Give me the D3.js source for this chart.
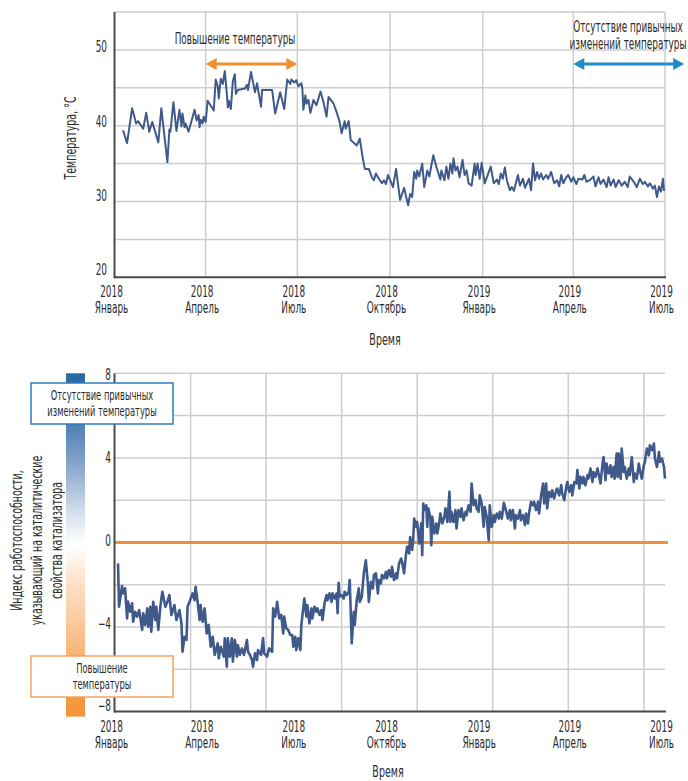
<!DOCTYPE html>
<html>
<head>
<meta charset="utf-8">
<script src="https://cdn.jsdelivr.net/npm/d3@7"></script>
<style>
body { margin: 0; background: #fff; }
svg text { font-family: "DejaVu Sans Condensed", "Liberation Sans Narrow", sans-serif; fill: #2b2b2b; }
</style>
</head>
<body>
<svg id="chart" width="688" height="781"></svg>
<script>
// days counted from 1 Jan 2018
var tempDays = [8,12,17,21,23,28,31,34,37,43,46,52,54,55,58,61,64,66,67,69,70,73,78,79,81,83,84,85,87,88,90,92,98,100,102,103,105,107,109,111,112,113,115,117,119,120,122,129,131,132,135,139,141,145,146,156,159,162,164,168,171,174,175,178,180,182,185,186,187,189,190,192,194,197,200,204,207,210,212,217,220,223,225,228,229,232,234,240,243,246,248,252,255,257,259,262,265,267,269,271,276,279,283,287,291,293,295,297,299,300,302,305,307,310,312,316,319,323,324,327,329,331,333,335,336,338,340,342,345,347,349,351,354,357,358,360,362,364,367,373,376,379,381,383,385,387,389,392,394,396,400,402,405,407,411,413,415,417,419,421,423,425,428,430,433,436,439,441,443,445,448,450,453,455,458,460,464,466,468,472,475,477,480,482,485,488,490,492,495,497,500,503,506,509,511,515,518,521,524,526,529,531,534,536,538,540,542,544,545];
var tempValues = [39.4,37.7,42.3,40.3,40.6,39.6,41.7,39.2,40.5,37.8,42.3,35.2,39.5,39.2,43.1,39.3,42.1,39.9,41.6,39.8,40.3,39.2,41.6,42.1,40.7,41.4,39.8,40.8,40.3,41.2,40.5,43.3,42.0,46.1,45.2,43.6,46.2,45.5,47.2,44.2,42.4,43.3,42.2,45.9,46.8,44.2,44.7,44.9,45.4,44.7,47.1,44.4,45.6,42.5,44.7,44.7,41.6,43.3,44.4,42.2,46.1,45.5,46.1,45.7,46.0,45.2,45.6,44.9,42.1,44.0,42.9,43.4,41.7,43.4,42.7,44.5,43.1,41.2,43.8,42.9,41.8,40.5,39.0,40.6,39.6,40.6,38.1,37.4,38.3,35.7,34.3,34.3,33.2,32.8,33.7,33.0,32.4,32.8,32.3,33.5,31.9,34.3,30.2,31.8,29.5,31.0,30.6,33.9,33.0,34.1,33.3,35.0,31.9,34.1,33.3,36.1,34.6,32.9,34.1,32.8,34.6,33.0,35.0,33.7,35.7,34.1,34.6,33.2,35.5,33.5,34.1,32.4,32.1,35.0,33.5,35.0,33.0,35.1,32.4,34.6,32.4,32.9,32.3,33.7,33.0,34.5,32.8,31.5,31.9,31.4,33.5,32.1,33.0,31.8,33.0,31.5,35.0,32.8,33.9,33.0,33.7,32.9,33.5,33.0,33.9,32.4,32.8,32.0,33.5,32.4,33.2,33.5,32.6,33.2,32.3,33.0,32.9,33.5,32.6,32.9,33.3,32.0,33.2,32.3,32.9,31.9,33.2,32.1,32.9,31.9,32.8,32.1,32.6,31.9,33.3,32.6,31.9,33.0,32.3,32.6,32.0,32.4,31.7,32.1,30.6,32.0,31.3,33.0,31.4];

var indexDays = [3,4,7,8,10,12,13,15,17,18,20,22,24,27,28,30,32,33,35,36,38,40,41,43,45,47,50,52,54,56,59,61,64,66,67,69,71,72,74,77,79,80,82,84,85,87,89,91,93,95,97,99,102,103,105,108,109,111,112,114,116,117,119,121,122,124,126,128,131,132,134,136,137,139,141,142,145,147,148,151,153,156,157,159,161,163,165,167,168,170,172,174,176,177,179,180,182,184,185,188,190,191,193,195,196,198,200,201,203,205,206,208,210,211,213,215,216,218,220,221,222,223,225,227,228,230,232,233,235,237,238,240,242,243,245,247,248,249,251,252,254,256,257,259,261,262,264,265,267,269,270,272,274,275,277,279,280,282,284,285,287,289,290,291,292,293,295,296,297,299,300,302,304,305,306,307,309,310,311,313,314,315,317,319,320,322,323,325,327,328,330,332,333,334,336,338,339,341,343,344,346,348,349,351,353,354,356,358,359,361,362,364,366,367,369,371,372,374,376,377,379,381,382,384,386,388,390,392,393,395,397,398,400,402,403,405,407,408,410,411,413,415,416,418,420,421,423,425,426,428,429,431,433,434,436,438,439,441,443,444,446,448,449,451,453,454,456,458,459,461,462,464,465,467,469,470,472,474,475,477,479,480,482,484,485,487,488,490,492,493,495,496,498,499,500,502,503,505,506,508,510,511,513,515,516,518,520,521,523,525,526,528,530,531,533,535,536,538,540,541,543,545,546];
var indexValues = [-0.99,-3.04,-2.06,-2.41,-2.17,-3.59,-2.80,-3.28,-2.88,-3.75,-3.28,-3.51,-3.20,-4.14,-3.35,-3.90,-3.12,-3.99,-3.04,-4.22,-2.81,-3.67,-3.04,-4.14,-3.04,-2.33,-3.04,-2.81,-2.49,-3.43,-2.96,-3.67,-3.20,-3.83,-5.17,-4.46,-4.61,-3.04,-2.81,-2.41,-2.73,-2.10,-2.81,-3.67,-2.96,-3.75,-3.12,-4.30,-3.90,-4.93,-4.46,-5.32,-4.77,-5.48,-4.93,-5.40,-4.53,-5.88,-4.53,-5.40,-4.53,-5.64,-4.61,-5.40,-4.85,-5.32,-5.01,-5.32,-4.61,-5.17,-5.32,-5.56,-5.88,-5.24,-5.56,-5.09,-5.32,-4.53,-5.24,-5.40,-5.01,-5.17,-3.12,-3.51,-2.81,-3.59,-3.43,-4.30,-3.51,-4.06,-4.14,-4.38,-4.38,-4.93,-4.46,-5.09,-4.53,-5.09,-3.90,-2.65,-3.51,-2.96,-3.83,-3.12,-3.59,-3.04,-3.28,-3.12,-3.43,-3.20,-3.67,-2.88,-2.49,-2.73,-2.41,-2.81,-2.41,-2.65,-2.41,-3.35,-1.91,-2.57,-2.49,-2.65,-2.33,-2.49,-2.33,-1.78,-4.77,-3.28,-3.90,-2.73,-2.17,-2.81,-2.57,-1.46,-1.15,-0.84,-1.94,-2.81,-1.86,-2.17,-1.54,-1.46,-2.41,-1.78,-1.94,-1.54,-1.70,-1.39,-1.70,-1.31,-1.62,-1.15,-1.78,-1.46,-1.70,-0.99,-0.76,-0.92,-1.46,-0.52,-0.21,-0.21,-0.52,0.26,-0.36,0.11,1.13,0.74,0.97,-0.05,0.90,-0.60,1.84,1.53,1.76,0.74,1.61,1.21,-0.13,1.21,0.43,0.90,0.43,0.97,1.37,0.90,1.21,1.61,0.97,2.39,0.97,1.45,0.97,1.53,0.66,1.53,1.21,1.61,1.05,1.45,1.29,1.76,1.45,2.79,1.76,2.00,1.61,1.45,2.23,1.84,0.74,1.68,1.21,0.11,1.76,0.74,1.29,0.97,1.37,1.13,1.45,1.13,1.87,1.53,1.13,1.53,1.05,1.53,0.66,1.29,1.13,1.53,1.05,1.29,0.82,1.37,0.90,1.37,1.92,1.76,1.92,1.53,1.92,1.37,2.23,2.79,1.84,2.79,1.61,2.39,2.15,2.47,2.08,2.47,2.55,2.23,2.71,2.31,2.00,2.63,2.86,2.39,2.71,2.23,2.86,2.79,3.42,2.55,3.10,2.79,3.10,2.71,3.18,3.02,3.50,2.86,3.33,3.10,3.50,3.26,2.79,3.73,4.04,2.94,3.73,3.26,3.65,3.10,3.57,3.02,4.20,3.10,4.20,3.02,4.44,3.33,3.57,3.02,3.50,3.18,4.04,2.86,3.26,3.02,3.73,3.42,3.02,3.65,3.81,4.44,4.12,4.60,4.36,4.68,3.97,3.57,4.28,3.81,3.97,3.57,3.02];

var tickDates = ["2018-01-01","2018-04-01","2018-07-01","2018-10-01","2019-01-01","2019-04-01","2019-07-01"];
var tickYears = ["2018","2018","2018","2018","2019","2019","2019"];
var tickMonths = ["Январь","Апрель","Июль","Октябрь","Январь","Апрель","Июль"];
var tempTicks = [20,30,40,50];
var tempGrid = [25,30,35,40,45,50,55];
var indexTicks = [-8,-4,0,4,8];
var indexGrid = [-6,-4,-2,2,4,6,8];
var indexGridDays = [75,150,225,300,375,450,525];
var heatSpan = ["2018-04-01","2018-07-01"];
var normalSpan = ["2019-04-01","2019-07-20"];

var SQ = 0.66;   // squeeze the font to look condensed
var lineColor = "#3f5a8a";
var orange = "#f28f34";
var blue = "#1f8bc8";
var gridColor = "#cdcdcd";
var axisColor = "#4a4a4a";

var parse = d3.timeParse("%Y-%m-%d");
var start = parse("2018-01-01");
function dayDate(d) { return d3.timeDay.offset(start, d); }

var svg = d3.select("#chart");

var x = d3.scaleTime()
    .domain([start, parse("2019-07-01")])
    .range([115, 665]);

function label(parent, px, py, str, size, anchor, rot) {
    return parent.append("text")
        .attr("transform", "translate(" + px + "," + py + ")" + (rot ? " rotate(-90)" : "") + " scale(" + SQ + ",1)")
        .attr("text-anchor", anchor || "middle")
        .style("font-size", size + "px")
        .text(str);
}

function drawXLabels(yBase) {
    var ax = svg.append("g")
        .attr("transform", "translate(-4," + yBase + ")")
        .call(d3.axisBottom(x).tickValues(tickDates.map(parse)).tickSize(0).tickPadding(0)
            .tickFormat(function (d, i) { return tickYears[i]; }));
    ax.select(".domain").remove();
    ax.selectAll(".tick text")
        .attr("y", 0).attr("dy", null)
        .attr("transform", "scale(" + SQ + ",1)")
        .style("font-size", "15px").style("fill", "#2b2b2b");
    ax.selectAll(".tick").append("text")
        .attr("y", 16)
        .attr("transform", "scale(" + SQ + ",1)")
        .attr("text-anchor", "middle")
        .style("font-size", "15px")
        .text(function (d, i) { return tickMonths[i]; });
}

function drawYLabels(scale, ticks, xPos) {
    var ay = svg.append("g")
        .attr("transform", "translate(" + xPos + ",0)")
        .call(d3.axisLeft(scale).tickValues(ticks).tickSize(0).tickPadding(0)
            .tickFormat(function (d) { return d < 0 ? "\u2212" + Math.abs(d) : d; }));
    ay.select(".domain").remove();
    ay.selectAll(".tick text")
        .attr("dy", "0.36em")
        .attr("transform", "scale(" + SQ + ",1)")
        .style("font-size", "15px").style("fill", "#2b2b2b");
}

function arrow(y, x0, x1, color) {
    var g = svg.append("g");
    g.append("line").attr("x1", x0 + 8).attr("x2", x1 - 8).attr("y1", y).attr("y2", y)
        .attr("stroke", color).attr("stroke-width", 3);
    g.append("path").attr("d", "M" + x0 + "," + y + "l11,-6v12z").attr("fill", color);
    g.append("path").attr("d", "M" + x1 + "," + y + "l-11,-6v12z").attr("fill", color);
}

// ---------- top chart: temperature ----------
var yT = d3.scaleLinear().domain([20, 55]).range([277.3, 12]);
var yTLab = d3.scaleLinear().domain([20, 50]).range([269.5, 46.2]);

svg.append("g").selectAll("line").data(tempGrid).enter().append("line")
    .attr("x1", 115).attr("x2", 665)
    .attr("y1", function (d) { return yT(d); }).attr("y2", function (d) { return yT(d); })
    .attr("stroke", gridColor).attr("stroke-width", 1.5);
svg.append("g").selectAll("line").data(tickDates.slice(1)).enter().append("line")
    .attr("x1", function (d) { return x(parse(d)); }).attr("x2", function (d) { return x(parse(d)); })
    .attr("y1", yT(55)).attr("y2", yT(20))
    .attr("stroke", gridColor).attr("stroke-width", 1.5);

var tempLine = d3.line()
    .x(function (d, i) { return x(dayDate(tempDays[i])); })
    .y(function (d) { return yT(d); });
svg.append("path")
    .attr("d", tempLine(tempValues))
    .attr("fill", "none").attr("stroke", lineColor).attr("stroke-width", 2)
    .attr("stroke-linejoin", "round");

svg.append("line").attr("x1", 114.5).attr("x2", 114.5).attr("y1", yT(55)).attr("y2", yT(20) + 1)
    .attr("stroke", axisColor).attr("stroke-width", 2);
svg.append("line").attr("x1", 114).attr("x2", 666).attr("y1", yT(20)).attr("y2", yT(20))
    .attr("stroke", axisColor).attr("stroke-width", 2);

drawYLabels(yTLab, tempTicks, 107);
drawXLabels(297);
label(svg, 385, 345, "Время", 16);
label(svg, 76, 138, "Температура, °C", 16, "middle", true);

label(svg, 235, 44, "Повышение температуры", 15);
arrow(64, x(parse(heatSpan[0])), x(parse(heatSpan[1])), orange);
label(svg, 628, 32, "Отсутствие привычных", 15);
label(svg, 628, 48.5, "изменений температуры", 15);
arrow(64, x(parse(normalSpan[0])), x(parse(normalSpan[1])), blue);

// ---------- bottom chart: performance index ----------
var yI = d3.scaleLinear().domain([-8, 8]).range([711.6, 373.3]);
var yILab = d3.scaleLinear().domain([-8, 8]).range([705.5, 374.5]);

svg.append("g").selectAll("line").data(indexGrid).enter().append("line")
    .attr("x1", 115).attr("x2", 665)
    .attr("y1", function (d) { return yI(d); }).attr("y2", function (d) { return yI(d); })
    .attr("stroke", gridColor).attr("stroke-width", 1.5);
svg.append("g").selectAll("line").data(indexGridDays).enter().append("line")
    .attr("x1", function (d) { return x(dayDate(d)); }).attr("x2", function (d) { return x(dayDate(d)); })
    .attr("y1", yI(8)).attr("y2", yI(-8))
    .attr("stroke", gridColor).attr("stroke-width", 1.5);

svg.append("line").attr("x1", 115).attr("x2", 668).attr("y1", yI(0)).attr("y2", yI(0))
    .attr("stroke", orange).attr("stroke-width", 3);

var indexLine = d3.line()
    .x(function (d, i) { return x(dayDate(indexDays[i])); })
    .y(function (d) { return yI(d); });
svg.append("path")
    .attr("d", indexLine(indexValues))
    .attr("fill", "none").attr("stroke", lineColor).attr("stroke-width", 2.6)
    .attr("stroke-linejoin", "round");

svg.append("line").attr("x1", 114.5).attr("x2", 114.5).attr("y1", yI(8)).attr("y2", yI(-8) + 1)
    .attr("stroke", axisColor).attr("stroke-width", 2);
svg.append("line").attr("x1", 114).attr("x2", 666).attr("y1", yI(-8)).attr("y2", yI(-8))
    .attr("stroke", axisColor).attr("stroke-width", 2);

drawYLabels(yILab, indexTicks, 111);
drawXLabels(732);
label(svg, 388, 777, "Время", 16);

// colour bar
var grad = svg.append("defs").append("linearGradient")
    .attr("id", "bar").attr("x1", 0).attr("y1", 0).attr("x2", 0).attr("y2", 1);
[[0, "#2a6aa3"], [0.03, "#2c6ca4"], [0.05, "#3e76ad"], [0.15, "#4f80b3"], [0.28, "#8eaacf"],
 [0.42, "#dce5f0"], [0.5, "#ffffff"], [0.6, "#fde4ce"], [0.78, "#f9bd87"], [0.93, "#f59a45"], [1, "#f5933a"]]
    .forEach(function (s) { grad.append("stop").attr("offset", s[0]).attr("stop-color", s[1]); });
svg.append("rect").attr("x", 66).attr("y", yI(8)).attr("width", 19).attr("height", yI(-8) - yI(8) + 5)
    .attr("fill", "url(#bar)");

svg.append("rect").attr("x", 31).attr("y", 383).attr("width", 142).attr("height", 41)
    .attr("fill", "#fff").attr("stroke", "#2f7bbd").attr("stroke-width", 1.5);
label(svg, 102, 399.5, "Отсутствие привычных", 14);
label(svg, 102, 415.5, "изменений температуры", 14);

svg.append("rect").attr("x", 31).attr("y", 656).attr("width", 142).attr("height", 41)
    .attr("fill", "#fff").attr("stroke", "#f4a261").attr("stroke-width", 1.5);
label(svg, 102, 672.5, "Повышение", 14);
label(svg, 102, 689, "температуры", 14);

label(svg, 21.5, 540.5, "Индекс работоспособности,", 16, "middle", true);
label(svg, 41.5, 540.5, "указывающий на каталитические", 16, "middle", true);
label(svg, 61.5, 540.5, "свойства катализатора", 16, "middle", true);
</script>
</body>
</html>
